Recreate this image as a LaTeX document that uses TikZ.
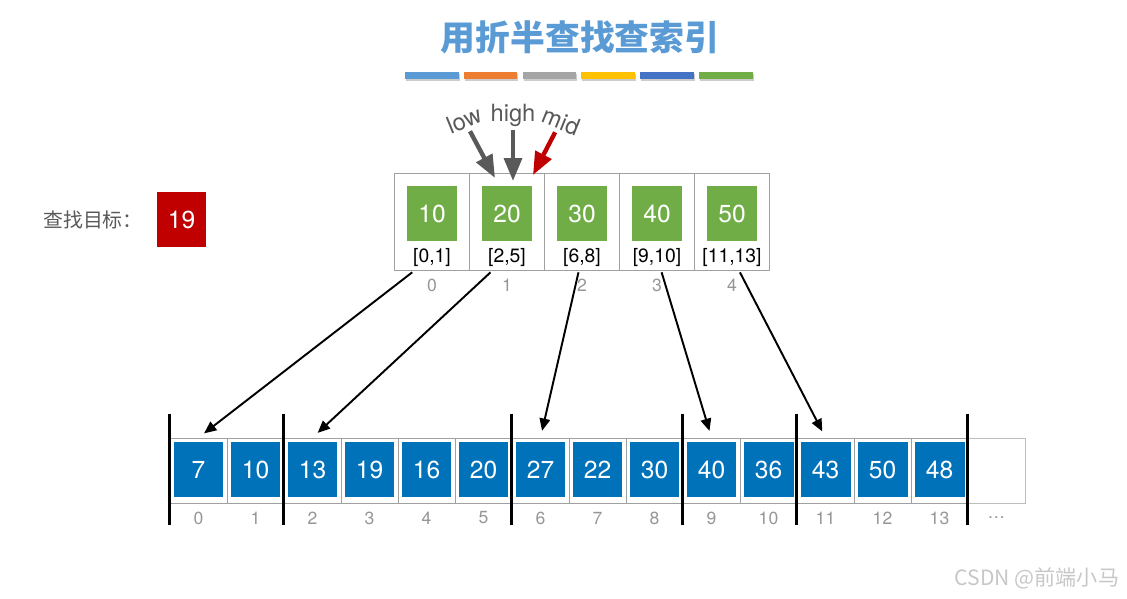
\documentclass[tikz,border=0pt]{standalone}
\usepackage{fontspec}
\setmainfont{TeX Gyre Heros}
\newfontfamily\cjk{Noto Sans CJK SC}
\usetikzlibrary{arrows.meta}
\definecolor{boxblue}{RGB}{0,114,186}
\definecolor{boxgreen}{RGB}{112,173,71}
\definecolor{tgtred}{RGB}{192,0,0}
\definecolor{txtgray}{RGB}{89,89,89}
\definecolor{idxgray}{RGB}{150,150,150}
\definecolor{linegray}{RGB}{160,160,160}
\definecolor{titleblue}{RGB}{91,155,213}
\definecolor{barorange}{RGB}{237,125,49}
\definecolor{bargray}{RGB}{165,165,165}
\definecolor{baryellow}{RGB}{255,192,0}
\definecolor{bardblue}{RGB}{68,114,196}
\tikzset{
  botcell/.style={draw=linegray,minimum width=1.14cm,minimum height=1.3cm,inner sep=0pt},
  topcell/.style={draw=linegray,minimum width=1.5cm,minimum height=1.94cm,inner sep=0pt},
  numbox/.style={minimum width=1cm,minimum height=1.1cm,inner sep=0pt,text=white,font=\fontsize{14}{14}\selectfont},
  idx/.style={text=idxgray,font=\fontsize{10}{10}\selectfont},
  ptrtxt/.style={text=txtgray,font=\fontsize{13.5}{13.5}\selectfont,inner sep=0pt},
  ptr/.style={line width=2.5pt,-{Triangle[length=13pt,width=10pt]},shorten <=2pt},
  link/.style={line width=1.1pt,-{Triangle[length=7pt,width=6pt]},shorten >=4pt}
}
\begin{document}
\begin{tikzpicture}[x=0.02cm,y=-0.02cm]
\useasboundingbox (0,0) rectangle (1127,599);

\node[text=titleblue,font=\cjk\bfseries\fontsize{19.8}{20}\selectfont] (title) at (580,37) {用折半查找查索引};
\foreach \c [count=\i from 0] in {titleblue,barorange,bargray,baryellow,bardblue,boxgreen} {
  \fill[black!20] (406+58.8*\i,73.5) rectangle ++(53.5,7.5);
  \fill[\c] (405+58.8*\i,72) rectangle ++(53.5,7);
}

\node[text=txtgray,font=\cjk\fontsize{11.3}{12}\selectfont] (tgtlbl) at (93,220) {查找目标：};
\node[numbox,fill=tgtred,minimum width=0.98cm] (tgt) at (181.5,219.5) {19};

\foreach \v/\a/\b [count=\i from 0] in {10/0/1,20/2/5,30/6/8,40/9/10,50/11/13} {
  \node[topcell] (t\i) at (431.5+75*\i,221.5) {};
  \node[numbox,fill=boxgreen] (g\i) at (432+75*\i,213.5) {\v};
  \node[font=\fontsize{11}{11}\selectfont] (r\i) at (432+75*\i,257) {[\a,\b]};
  \node[idx] (ti\i) at (432+75*\i,285) {\i};
}

\node[ptrtxt,rotate=22] (plow) at (464,120) {low};
\node[ptrtxt] (phigh) at (513,115) {high};
\node[ptrtxt,rotate=-22] (pmid) at (561,121) {mid};
\coordinate (tlow) at (495,178);
\coordinate (thigh) at (513,181);
\coordinate (tmid) at (533,175);
\draw[ptr,txtgray] (plow) -- (tlow);
\draw[ptr,txtgray] (phigh) -- (thigh);
\draw[ptr,tgtred] (pmid) -- (tmid);

\foreach \v [count=\i from 0] in {7,10,13,19,16,20,27,22,30,40,36,43,50,48} {
  \node[botcell] (c\i) at (198.5+57*\i,470.5) {};
  \node[numbox,fill=boxblue] (b\i) at (198.5+57*\i,469.5) {\v};
  \node[idx] (bi\i) at (198.5+57*\i,518) {\i};
}
\node[botcell,draw=linegray!70] (c14) at (996.5,470.5) {};
\node[idx] (bi14) at (996.5,518) {\dots};
\foreach \i in {0,2,6,9,11,14} \draw[line width=1.4pt] (c\i.north west) ++(0,-24) -- ++(0,111);

\foreach \a/\b in {0/0,1/2,2/6,3/9,4/11} \draw[link] (r\a) -- (c\b.north);

\node[text=black!22,font=\cjk\fontsize{12}{12}\selectfont] (mark) at (1037,578) {CSDN @前端小马};
\end{tikzpicture}
\end{document}
